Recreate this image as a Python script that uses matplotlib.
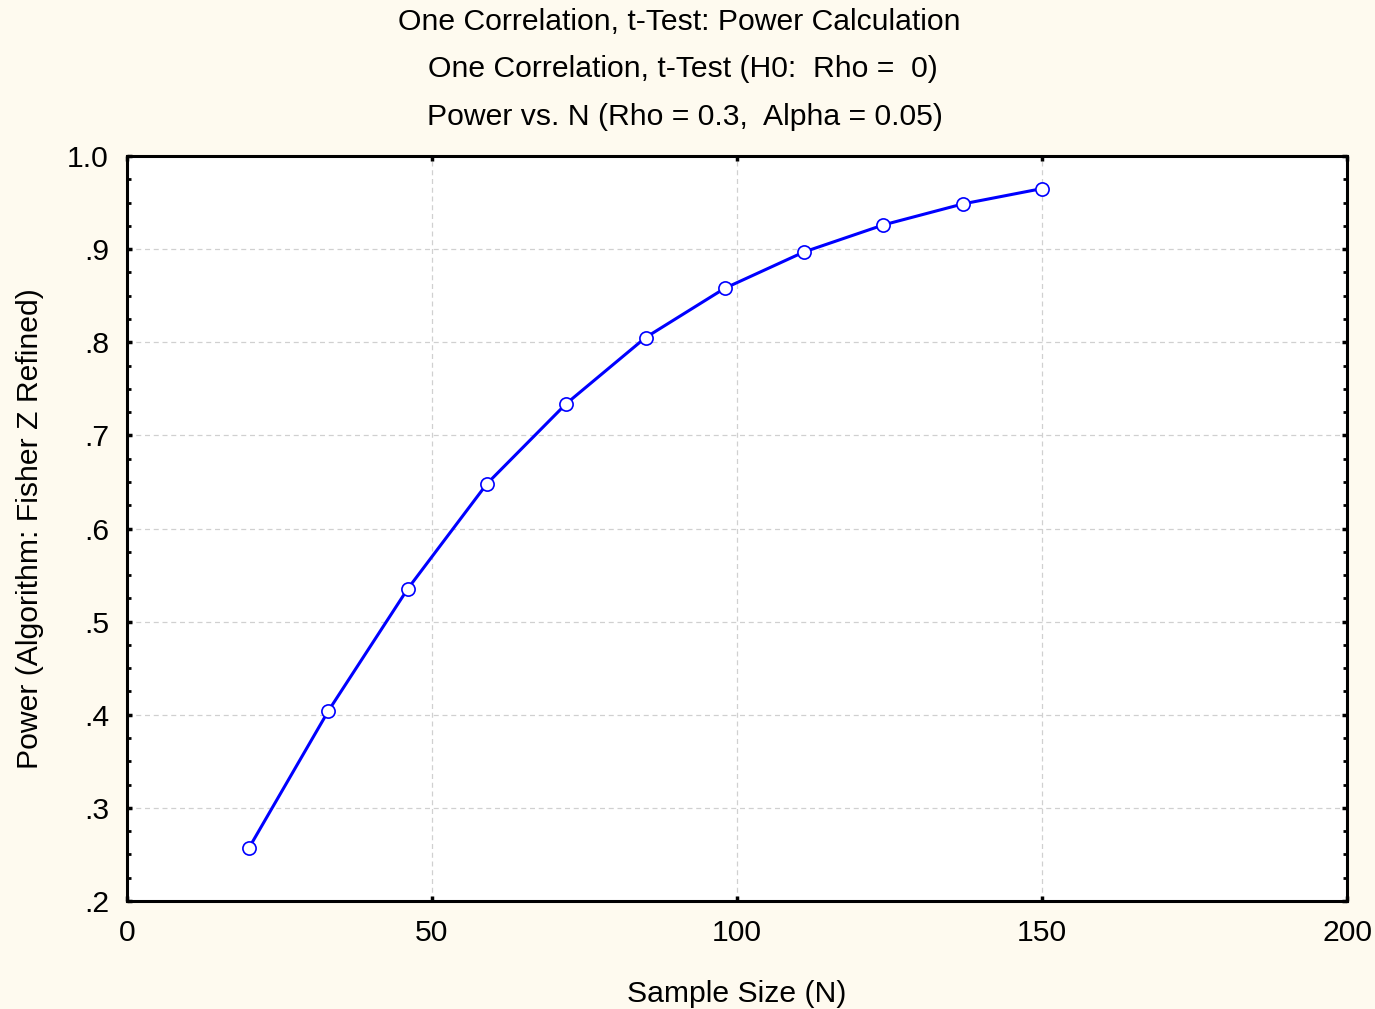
import matplotlib
matplotlib.use("Agg")
import matplotlib.pyplot as plt
from matplotlib.ticker import MultipleLocator, FixedLocator, FixedFormatter

plt.rcParams['font.family'] = ['Liberation Sans', 'DejaVu Sans']

sample_size = [20, 33, 46, 59, 72, 85, 98, 111, 124, 137, 150]
power = [0.257, 0.404, 0.535, 0.648, 0.734, 0.805, 0.858, 0.897, 0.926, 0.9485, 0.965]

x_ticks = [0, 50, 100, 150, 200]
x_labels = ['0', '50', '100', '150', '200']
y_ticks = [0.2, 0.3, 0.4, 0.5, 0.6, 0.7, 0.8, 0.9, 1.0]
y_labels = ['.2', '.3', '.4', '.5', '.6', '.7', '.8', '.9', '1.0']

bg = '#FEFAEF'
fs = 21.7
fig = plt.figure(figsize=(13.75, 10.09), dpi=100, facecolor=bg)
ax = fig.add_axes([127/1375, 1-901/1009, (1347-127)/1375, (901-156)/1009])
ax.set_facecolor('white')

ax.plot(sample_size, power, color='#0000FF', lw=2.2, marker='o', ms=9.5,
        mfc='white', mec='#0000FF', mew=1.2, zorder=3)

ax.set_xlim(0, 200)
ax.set_ylim(0.2, 1.0)
ax.xaxis.set_major_locator(FixedLocator(x_ticks))
ax.xaxis.set_major_formatter(FixedFormatter(x_labels))
ax.yaxis.set_major_locator(FixedLocator(y_ticks))
ax.yaxis.set_major_formatter(FixedFormatter(y_labels))
ax.yaxis.set_minor_locator(MultipleLocator(0.025))

ax.grid(True, which='major', color='#D0D0D0', ls=(0, (4, 3)), lw=0.9)
ax.set_axisbelow(True)
for s in ax.spines.values():
    s.set_linewidth(2.2)
    s.set_color('black')

ax.tick_params(which='major', direction='in', length=3.5, width=2.5,
               top=True, right=True, labelsize=fs, pad=13)
ax.tick_params(which='minor', direction='in', length=3, width=2,
               left=True, right=True)
ax.tick_params(axis='x', pad=13)

ax.set_xlabel('Sample Size (N)', fontsize=fs, labelpad=24)
ax.set_ylabel('Power (Algorithm: Fisher Z Refined)', fontsize=fs, labelpad=17)

fig.text(0.494, 1-22/1009, 'One Correlation, t-Test: Power Calculation', ha='center', va='center', fontsize=fs)
fig.text(0.497, 1-69/1009, 'One Correlation, t-Test (H0:  Rho =  0)', ha='center', va='center', fontsize=fs)
fig.text(0.498, 1-117/1009, 'Power vs. N (Rho = 0.3,  Alpha = 0.05)', ha='center', va='center', fontsize=fs)

fig.savefig('out.png', dpi=100, facecolor=bg)
